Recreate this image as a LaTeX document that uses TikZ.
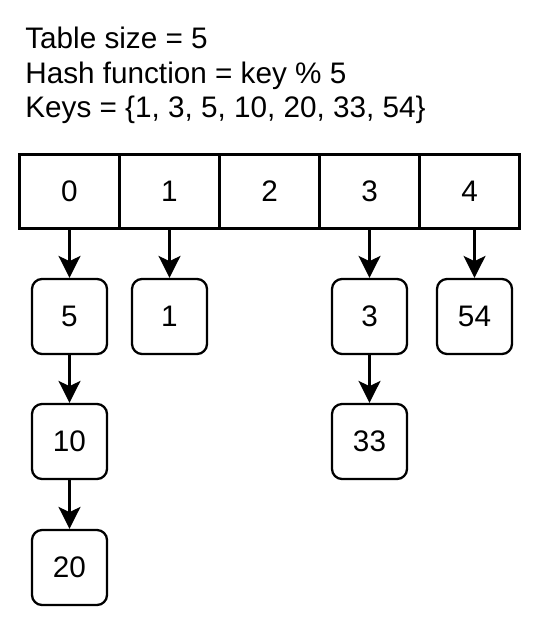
\documentclass[tikz,border=0pt]{standalone}
\usepackage{fontspec}
\setmainfont{Liberation Sans}
\usetikzlibrary{arrows.meta, positioning}

\begin{document}
\begin{tikzpicture}[x=0.02cm, y=-0.02cm,
    txt/.style={font=\fontsize{16.9}{19.8}\selectfont},
    slot/.style={txt, draw, line width=1.3pt, minimum width=2cm, minimum height=1.48cm, inner sep=0pt},
    entry/.style={txt, draw, line width=1.3pt, rounded corners=0.2cm, minimum size=1.5cm, inner sep=0pt},
    arr/.style={line width=1.3pt, -{Stealth[length=12.5pt, width=12.5pt, inset=3pt]}}]
\useasboundingbox (0,0) rectangle (544,617);

% Header text
\node[txt, anchor=base west, align=left, inner sep=0pt] (info) at (25,118)
    {Table size = 5\\Hash function = key \% 5\\Keys = \{1, 3, 5, 10, 20, 33, 54\}};

% Hash table slots
\foreach \i in {0,...,4} {
    \node[slot] (cell\i) at (69.5+\i*100, 191.5) {\i};
}

% Chained keys
\node[entry] (k5)  at (69.5, 316.5) {5};
\node[entry] (k10) at (69.5, 441.5) {10};
\node[entry] (k20) at (69.5, 567.5) {20};
\node[entry] (k1)  at (169.5, 316.5) {1};
\node[entry] (k3)  at (369.5, 316.5) {3};
\node[entry] (k33) at (369.5, 441.5) {33};
\node[entry] (k54) at (474.5, 316.5) {54};

% Pointers
\draw[arr] (cell0) -- (k5);
\draw[arr] (k5) -- (k10);
\draw[arr] (k10) -- (k20);
\draw[arr] (cell1) -- (k1);
\draw[arr] (cell3) -- (k3);
\draw[arr] (k3) -- (k33);
\draw[arr] (k54 |- cell4.south) -- (k54);

\end{tikzpicture}
\end{document}
